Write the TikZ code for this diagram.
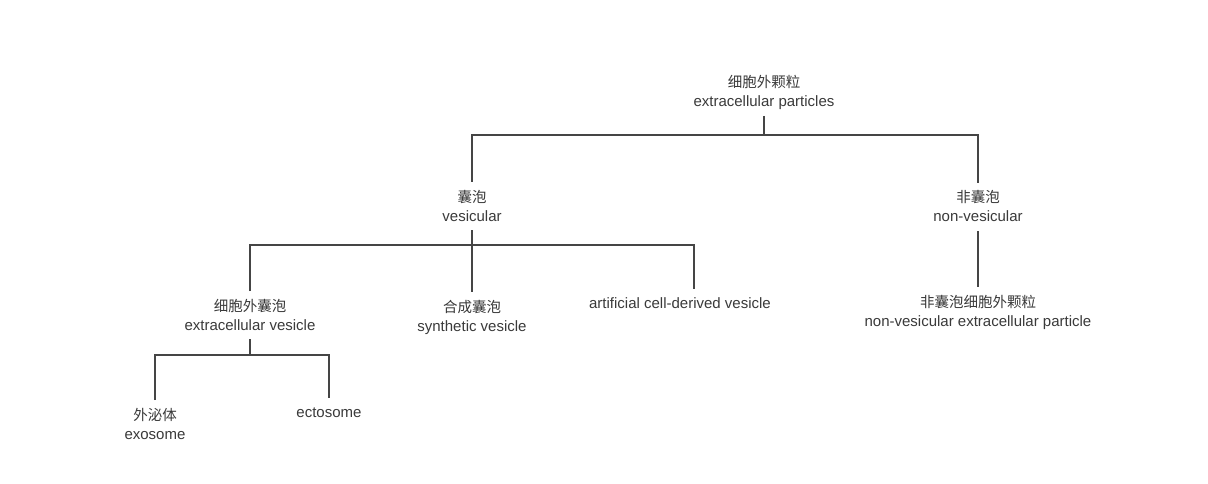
\documentclass[tikz,border=0pt]{standalone}
\usepackage{fontspec}
\setmainfont{Liberation Sans}
\newfontfamily\zhfont{Noto Sans CJK SC}
\definecolor{txtgray}{HTML}{3A3A3A}
\definecolor{linegray}{HTML}{454545}
\newcommand\lstrut{\rule[-4pt]{0pt}{19pt}}
\newcommand\zh[1]{{\zhfont\fontsize{14.5}{19}\selectfont #1}}
\tikzset{
  lbl/.style={inner sep=0pt, outer sep=5pt, align=center, text=txtgray,
              font={\fontsize{15}{19}\selectfont}},
  conn/.style={draw=linegray, line width=1.8pt}
}
\begin{document}
\begin{tikzpicture}[x=1pt,y=-1pt]
\useasboundingbox[fill=white] (0,0) rectangle (1208,484);
% nodes
\node[lbl] (root)   at (764,92)  {\zh{细胞外颗粒}\lstrut\\extracellular particles\lstrut};
\node[lbl] (ves)    at (472,206) {\zh{囊泡}\lstrut\\vesicular\lstrut};
\node[lbl] (nonves) at (978,207) {\zh{非囊泡}\lstrut\\non-vesicular\lstrut};
\node[lbl] (ev)     at (250,315) {\zh{细胞外囊泡}\lstrut\\extracellular vesicle\lstrut};
\node[lbl] (syn)    at (472,316) {\zh{合成囊泡}\lstrut\\synthetic vesicle\lstrut};
\node[lbl] (art)    at (680,303) {artificial cell-derived vesicle\lstrut};
\node[lbl] (nep)    at (978,311) {\zh{非囊泡细胞外颗粒}\lstrut\\non-vesicular extracellular particle\lstrut};
\node[lbl] (exo)    at (155,424) {\zh{外泌体}\lstrut\\exosome\lstrut};
\node[lbl] (ecto)   at (329,412) {ectosome\lstrut};
% junctions
\coordinate (rj)   at (764,135);
\coordinate (artj) at (694,245);
\coordinate (evj)  at (250,355);
% connectors
\draw[conn] (root.south) -- (rj);
\draw[conn] (ves.north) |- (rj) -| (nonves.north);
\draw[conn] (nonves.south) -- (nep.north);
\draw[conn] (ves.south) -- (syn.north);
\draw[conn] (ev.north) |- (artj) -- (artj |- art.north);
\draw[conn] (ev.south) -- (evj);
\draw[conn] (exo.north) |- (evj) -| (ecto.north);
\end{tikzpicture}
\end{document}
